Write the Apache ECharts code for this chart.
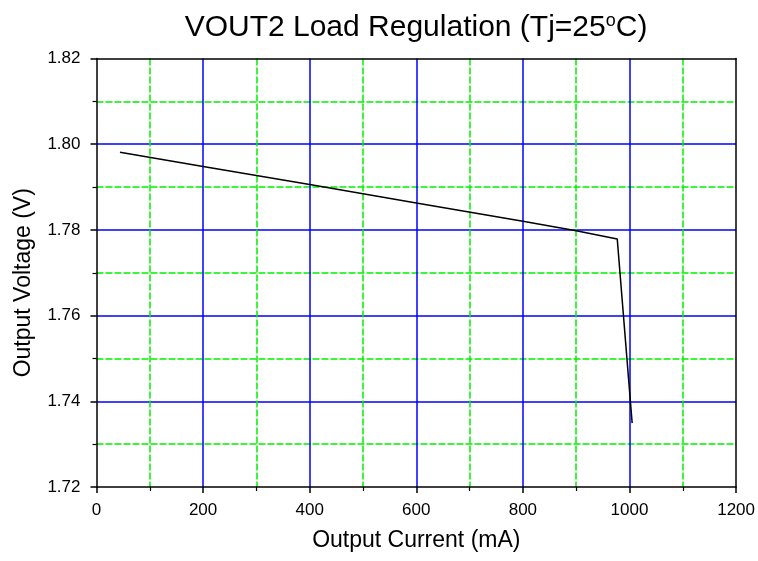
<!DOCTYPE html>
<html>
<head>
<meta charset="utf-8">
<script src="https://cdn.jsdelivr.net/npm/echarts@6/dist/echarts.min.js"></script>
<style>
  html, body { margin: 0; padding: 0; background: #fff; }
  #chart { width: 758px; height: 561px; }
</style>
</head>
<body>
<div id="chart"></div>
<script>
// load regulation curve
var currentMA = [44, 200, 400, 600, 800, 900, 977, 1005];
var voltageV = [1.7981, 1.7948, 1.7906, 1.7863, 1.7820, 1.7798, 1.7779, 1.7349];
var xTicks = [0, 200, 400, 600, 800, 1000, 1200];
var yTicks = [1.72, 1.74, 1.76, 1.78, 1.80, 1.82];

var points = [];
for (var i = 0; i < currentMA.length; i++) {
  points.push([currentMA[i], voltageV[i]]);
}

var myChart = echarts.init(document.getElementById('chart'));

var font = 'Liberation Sans, Arial, sans-serif';

var option = {
  animation: false,
  title: {
    text: 'VOUT2 Load Regulation (Tj=25{sup|o}C)',
    left: 411,
    top: 7,
    textAlign: 'center',
    textStyle: {
      fontFamily: font,
      fontSize: 30,
      fontWeight: 'normal',
      color: '#000',
      rich: {
        sup: { fontFamily: font, fontSize: 18, color: '#000', verticalAlign: 'top', padding: [0, 0, 14, 0] }
      }
    }
  },
  grid: { left: 96.5, right: 21.5, top: 58.5, bottom: 74 },
  xAxis: [{
    type: 'value',
    min: xTicks[0],
    max: xTicks[xTicks.length - 1],
    interval: 200,
    name: 'Output Current (mA)',
    nameLocation: 'middle',
    nameGap: 42,
    nameTextStyle: { fontFamily: font, fontSize: 23, color: '#000' },
    axisLine: { lineStyle: { color: '#000', width: 1.5 } },
    axisTick: { length: 6, lineStyle: { color: '#000', width: 1.5 } },
    minorTick: { show: true, splitNumber: 2, length: 4, lineStyle: { color: '#000', width: 1.2 } },
    axisLabel: {
      fontFamily: font, fontSize: 17, color: '#000', margin: 15,
      formatter: function (v) { return String(v); }
    },
    splitLine: { show: true, showMinLine: false, showMaxLine: false, lineStyle: { color: '#0000ff', width: 1.5 } },
    minorSplitLine: { show: true, lineStyle: { color: '#00f000', width: 1.5, type: [7, 2] } }
  }, {
    type: 'value',
    position: 'top',
    min: xTicks[0],
    max: xTicks[xTicks.length - 1],
    axisLine: { onZero: false, lineStyle: { color: '#000', width: 1.5 } },
    axisTick: { show: false },
    axisLabel: { show: false },
    splitLine: { show: false }
  }],
  yAxis: [{
    type: 'value',
    min: yTicks[0],
    max: yTicks[yTicks.length - 1],
    interval: 0.02,
    name: 'Output Voltage (V)',
    nameLocation: 'middle',
    nameGap: 61,
    nameTextStyle: { fontFamily: font, fontSize: 23, color: '#000', padding: [0, 20, 0, 0] },
    axisLine: { lineStyle: { color: '#000', width: 1.5 } },
    axisTick: { length: 6, lineStyle: { color: '#000', width: 1.5 } },
    minorTick: { show: true, splitNumber: 2, length: 4, lineStyle: { color: '#000', width: 1.2 } },
    axisLabel: {
      fontFamily: font, fontSize: 17, color: '#000', margin: 16,
      formatter: function (v) { return v.toFixed(2); }
    },
    splitLine: { show: true, showMinLine: false, showMaxLine: false, lineStyle: { color: '#0000ff', width: 1.5 } },
    minorSplitLine: { show: true, lineStyle: { color: '#00f000', width: 1.5, type: [7, 2] } }
  }, {
    type: 'value',
    position: 'right',
    min: yTicks[0],
    max: yTicks[yTicks.length - 1],
    axisLine: { show: true, onZero: false, lineStyle: { color: '#000', width: 1.5 } },
    axisTick: { show: false },
    axisLabel: { show: false },
    splitLine: { show: false }
  }],
  series: [{
    type: 'line',
    data: points,
    showSymbol: false,
    lineStyle: { color: '#000', width: 1.5 },
    z: 5
  }]
};

myChart.setOption(option);
</script>
</body>
</html>
